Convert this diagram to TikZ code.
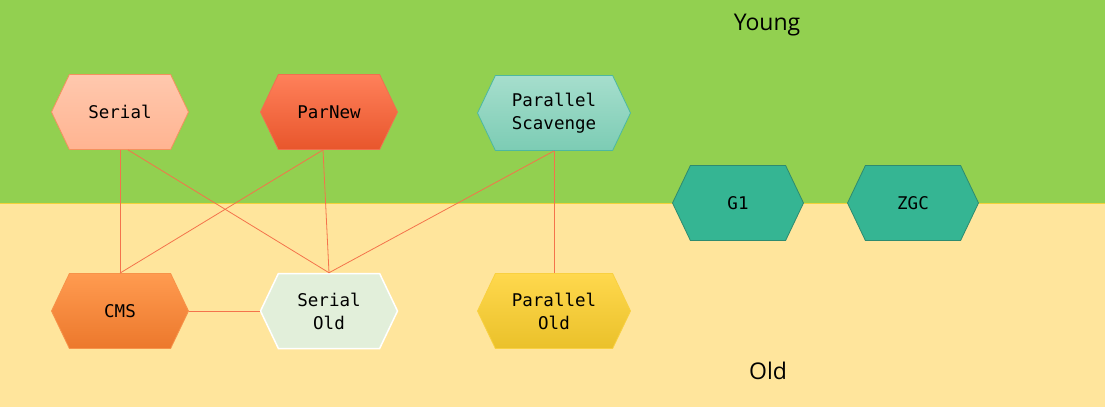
\documentclass[tikz,border=0pt]{standalone}
\usepackage{fontspec}
\setmonofont{DejaVu Sans Mono}
\newfontfamily\genfont{Open Sans}
\usetikzlibrary{shapes.symbols}

\definecolor{younggreen}{HTML}{92D050}
\definecolor{oldyellow}{HTML}{FFE59C}
\definecolor{genline}{HTML}{F2D23A}
\definecolor{linkcol}{HTML}{F4734B}
\definecolor{serialtop}{RGB}{255,200,174}
\definecolor{serialbot}{RGB}{255,180,145}
\definecolor{serialedge}{RGB}{244,145,94}
\definecolor{parnewtop}{RGB}{255,128,90}
\definecolor{parnewbot}{RGB}{232,86,44}
\definecolor{parnewedge}{RGB}{240,112,80}
\definecolor{scavtop}{RGB}{166,222,205}
\definecolor{scavbot}{RGB}{124,204,180}
\definecolor{scavedge}{RGB}{77,184,160}
\definecolor{newgenfill}{RGB}{53,181,147}
\definecolor{newgenedge}{RGB}{46,139,111}
\definecolor{cmstop}{RGB}{255,155,80}
\definecolor{cmsbot}{RGB}{236,120,44}
\definecolor{cmsedge}{RGB}{247,147,74}
\definecolor{seroldfill}{RGB}{226,239,218}
\definecolor{paroldtop}{RGB}{255,216,77}
\definecolor{paroldbot}{RGB}{234,193,42}
\definecolor{paroldedge}{RGB}{249,208,64}

\begin{document}
\begin{tikzpicture}[x=1pt,y=-1pt,
    gc/.style={signal, signal to=east and west, signal pointer angle=129,
      minimum width=137pt, minimum height=75pt, inner sep=0pt, align=center,
      font=\fontsize{17.5}{23}\selectfont\ttfamily, line width=0.8pt},
    link/.style={draw=linkcol, line width=0.8pt}]
  \useasboundingbox (0,0) rectangle (1105,407);
  % generations
  \fill[younggreen] (0,0) rectangle (1105,203);
  \fill[oldyellow] (0,203) rectangle (1105,407);
  \draw[genline, line width=1pt] (0,203) -- (1105,203);
  \node[font=\genfont\fontsize{23}{28}\selectfont] (young) at (767,25) {Young};
  \node[font=\genfont\fontsize{23}{28}\selectfont] (old) at (768,371) {Old};

  % collectors
  \node[gc, draw=serialedge, top color=serialtop, bottom color=serialbot] (serial) at (120,112) {Serial};
  \node[gc, draw=parnewedge, top color=parnewtop, bottom color=parnewbot] (parnew) at (329,112) {ParNew};
  \node[gc, minimum width=153pt, draw=scavedge, top color=scavtop, bottom color=scavbot] (scavenge) at (554,113) {Parallel\\Scavenge};
  \node[gc, minimum width=131pt, draw=newgenedge, fill=newgenfill] (g1) at (738,203) {G1};
  \node[gc, minimum width=131pt, draw=newgenedge, fill=newgenfill] (zgc) at (913,203) {ZGC};
  \node[gc, draw=cmsedge, top color=cmstop, bottom color=cmsbot] (cms) at (120,311) {CMS};
  \node[gc, draw=white, line width=1.5pt, fill=seroldfill] (serialold) at (329,311) {Serial\\Old};
  \node[gc, minimum width=153pt, draw=paroldedge, top color=paroldtop, bottom color=paroldbot] (parold) at (554,311) {Parallel\\Old};

  \draw[link] (serial.south) -- (cms.north);
  \draw[link] ([xshift=8pt]serial.south) -- (serialold.north);
  \draw[link] ([xshift=-6pt]parnew.south) -- (cms.north);
  \draw[link] ([xshift=-6pt]parnew.south) -- (serialold.north);
  \draw[link] (scavenge.south) -- (serialold.north);
  \draw[link] (scavenge.south) -- (parold.north);
  \draw[link] (cms.east) -- (serialold.west);
\end{tikzpicture}
\end{document}
